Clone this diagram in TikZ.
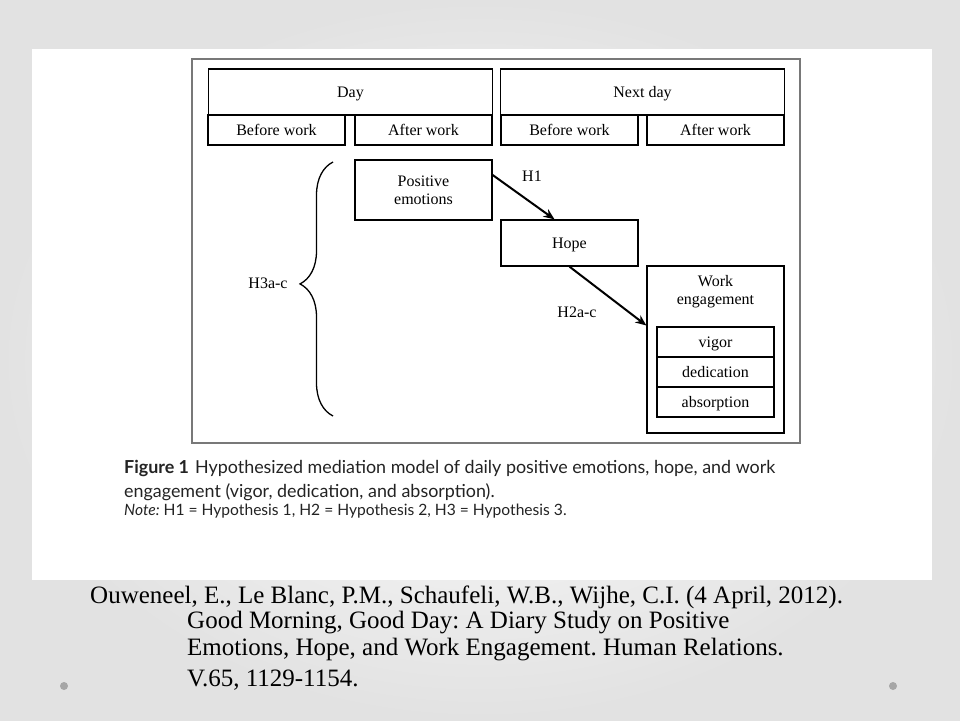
\documentclass[tikz,border=0pt]{standalone}
\usepackage{fontspec}
\setmainfont{Liberation Serif}
\newfontfamily\capfont{Lato}
\usepackage{tikz}
\usetikzlibrary{positioning}
\usetikzlibrary{calc}
\usetikzlibrary{arrows.meta}
\usetikzlibrary{decorations.pathreplacing}
\definecolor{slidegray}{RGB}{226,226,226}
\definecolor{framegray}{RGB}{120,120,120}
\definecolor{capgray}{RGB}{35,35,35}

\tikzset{
  box/.style={draw, line width=1.3pt, inner sep=0pt, align=center,
              font=\fontsize{16}{18}\selectfont},
  cell/.style={box, text height=10.6pt, text depth=0pt},
  hyp/.style={font=\fontsize{16}{18}\selectfont, inner sep=1pt},
  link/.style={line width=2pt, -{Stealth[length=11pt,width=9pt]}},
}

\begin{document}
\frenchspacing
\begin{tikzpicture}[x=1pt,y=-1pt]

%---------------------------------------
% Slide background
%---------------------------------------
\useasboundingbox (0,0) rectangle (960,720);
\shade[inner color=white, outer color=slidegray] (0,0) rectangle (960,720);
\fill[white] (32,49) rectangle (932,580);

% Figure frame
\draw[framegray, line width=1.5pt] (192,59) rectangle (800,443);

%---------------------------------------
% Time line header
%---------------------------------------
\def\colw{137}
\node[cell, minimum width=284, minimum height=46] (day) at (350.5,92) {Day};
\node[cell, minimum width=284, minimum height=46] (nextday) at (642.5,92) {Next day};

\node[cell, minimum width=\colw, minimum height=30] (bw1) at (276.5,130) {Before work};
\node[cell, minimum width=\colw, minimum height=30] (aw1) at (423.5,130) {After work};
\node[cell, minimum width=\colw, minimum height=30] (bw2) at (569.5,130) {Before work};
\node[cell, minimum width=\colw, minimum height=30] (aw2) at (715.5,130) {After work};

%---------------------------------------
% Model
%---------------------------------------
\node[box, minimum width=\colw, minimum height=60] (posemo) at (423.5,190) {Positive\\emotions};
\node[cell, minimum width=\colw, minimum height=46] (hope) at (569.5,243) {Hope};

\node[box, minimum width=\colw, minimum height=167] (workeng) at (715.5,349.5) {};
\node[hyp, align=center] (worktxt) at (715.5,292) {Work\\engagement};
\node[cell, minimum width=117, minimum height=30] (vigor) at (715.5,342) {vigor};
\node[cell, minimum width=117, minimum height=30] (dedic) at (715.5,372) {dedication};
\node[cell, minimum width=117, minimum height=30] (absorp) at (715.5,402) {absorption};

% Hypotheses
\draw[link] ([yshift=15pt]posemo.east) -- ([xshift=-15pt]hope.north);
\node[hyp] (h1) at (532,176) {H1};

\draw[link] (hope.south) -- ([yshift=24pt]workeng.west);
\node[hyp] (h2) at (577,312) {H2a-c};

\coordinate (bracelow) at (333,416);
\coordinate (bracehigh) at (333,162);
\draw[line width=1.3pt, decorate,
      decoration={brace, amplitude=33pt, aspect=0.52}] (bracelow) -- (bracehigh);
\node[hyp] (h3) at (268,283) {H3a-c};

%---------------------------------------
% Caption
%---------------------------------------
\node[anchor=west, inner sep=0pt, text=capgray, font=\capfont\fontsize{17.9}{20}\selectfont] (cap1) at (124,468)
  {\textbf{Figure 1}\hspace{6pt}Hypothesized mediation model of daily positive emotions, hope, and work};
\node[anchor=west, inner sep=0pt, text=capgray, font=\capfont\fontsize{17.9}{20}\selectfont] (cap2) at (124,492)
  {engagement (vigor, dedication, and absorption).};
\node[anchor=west, inner sep=0pt, text=capgray, font=\capfont\fontsize{15.6}{17}\selectfont] (cap3) at (124,511)
  {\textit{Note:} H1 = Hypothesis 1, H2 = Hypothesis 2, H3 = Hypothesis 3.};

%---------------------------------------
% Reference
%---------------------------------------
\node[anchor=west, inner sep=0pt, font=\fontsize{25}{28}\selectfont] (ref1) at (90,597)
  {Ouweneel, E., Le Blanc, P.M., Schaufeli, W.B., Wijhe, C.I. (4 April, 2012).};
\node[anchor=west, inner sep=0pt, font=\fontsize{25}{28}\selectfont] (ref2) at (187,623)
  {Good Morning, Good Day: A Diary Study on Positive};
\node[anchor=west, inner sep=0pt, font=\fontsize{25}{28}\selectfont] (ref3) at (187,650)
  {Emotions, Hope, and Work Engagement. Human Relations.};
\node[anchor=west, inner sep=0pt, font=\fontsize{25}{28}\selectfont] (ref4) at (187,680)
  {V.65, 1129-1154.};

\fill[gray!70] (64,686) circle (4);
\fill[gray!70] (893,686) circle (4);

\end{tikzpicture}
\end{document}
